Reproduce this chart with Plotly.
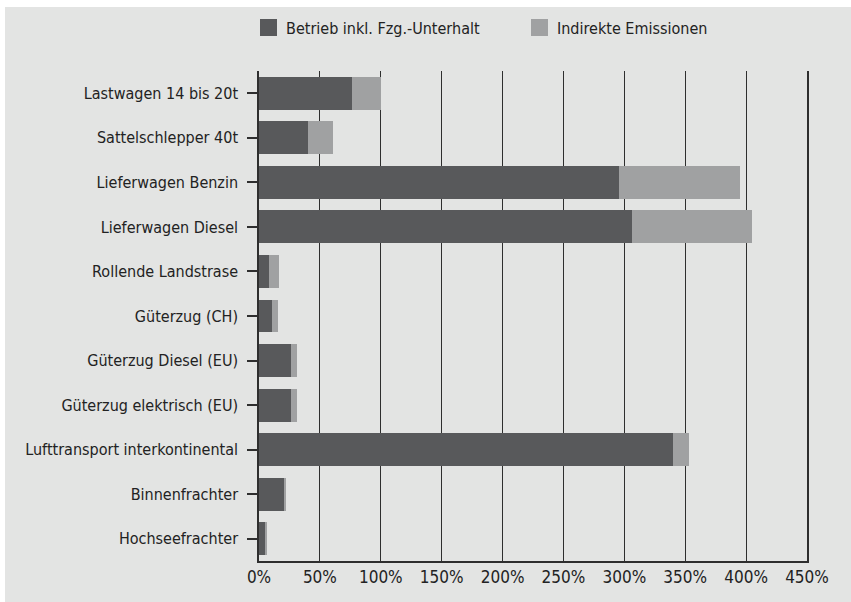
import plotly.graph_objects as go

categories = [
    "Lastwagen 14 bis 20t",
    "Sattelschlepper 40t",
    "Lieferwagen Benzin",
    "Lieferwagen Diesel",
    "Rollende Landstrase",
    "Güterzug (CH)",
    "Güterzug Diesel (EU)",
    "Güterzug elektrisch (EU)",
    "Lufttransport interkontinental",
    "Binnenfrachter",
    "Hochseefrachter",
]
betrieb = [76, 40, 296, 306, 8.5, 11, 26, 26, 340, 21, 5.2]
indirekt = [24, 21, 99, 99, 8, 5, 5, 5, 13, 1.5, 1.3]
series_names = ["Betrieb inkl. Fzg.-Unterhalt", "Indirekte Emissionen"]
tick_vals = [0, 50, 100, 150, 200, 250, 300, 350, 400, 450]
tick_text = [f"{v}%" for v in tick_vals]

DARK = "#58595b"
LIGHT = "#a0a1a2"
BG = "#e3e4e3"
LINE = "#2e2e2e"
FONT = "DejaVu Sans Condensed, Liberation Sans Narrow, sans-serif"
FS = 16
W, H = 851, 602
ML, MR, MT, MB = 259, 44, 71, 41

fig = go.Figure()
fig.add_trace(go.Bar(y=categories, x=betrieb, orientation="h", name=series_names[0],
                     marker=dict(color=DARK, line=dict(width=0)), showlegend=False))
fig.add_trace(go.Bar(y=categories, x=indirekt, orientation="h", name=series_names[1],
                     marker=dict(color=LIGHT, line=dict(width=0)), showlegend=False))

pw = W - ML - MR
ph = H - MT - MB
def px_x(p):
    return (p - ML) / pw
def px_y(p):
    return (H - MB - p) / ph

shapes = []
# white outer margins (top and left strips)
shapes.append(dict(type="rect", xref="paper", yref="paper", x0=px_x(-5), x1=px_x(W + 5),
                   y0=px_y(7), y1=px_y(-5), fillcolor="white", line=dict(width=0), layer="below"))
shapes.append(dict(type="rect", xref="paper", yref="paper", x0=px_x(-5), x1=px_x(5),
                   y0=px_y(H + 5), y1=px_y(-5), fillcolor="white", line=dict(width=0), layer="below"))
# legend squares
shapes.append(dict(type="rect", xref="paper", yref="paper", x0=px_x(260), x1=px_x(277),
                   y0=px_y(36), y1=px_y(19), fillcolor=DARK, line=dict(width=0)))
shapes.append(dict(type="rect", xref="paper", yref="paper", x0=px_x(531), x1=px_x(548),
                   y0=px_y(36), y1=px_y(19), fillcolor=LIGHT, line=dict(width=0)))

annotations = [
    dict(xref="paper", yref="paper", x=px_x(284), y=px_y(28), text=series_names[0],
         showarrow=False, xanchor="left", yanchor="middle", font=dict(size=FS, color="#222")),
    dict(xref="paper", yref="paper", x=px_x(555), y=px_y(28), text=series_names[1],
         showarrow=False, xanchor="left", yanchor="middle", font=dict(size=FS, color="#222")),
]

fig.update_layout(
    width=W, height=H,
    margin=dict(l=ML, r=MR, t=MT, b=MB, pad=0),
    barmode="stack",
    bargap=0.26,
    paper_bgcolor=BG,
    plot_bgcolor=BG,
    font=dict(family=FONT, size=FS, color="#222"),
    shapes=shapes,
    annotations=annotations,
    xaxis=dict(range=[0, 450], tickvals=tick_vals, ticktext=tick_text,
               showgrid=True, gridcolor=LINE, gridwidth=1,
               showline=True, linecolor=LINE, linewidth=1.5,
               ticks="", zeroline=False, fixedrange=True, automargin=False,
               tickfont=dict(size=FS + 1)),
    yaxis=dict(categoryorder="array", categoryarray=categories, autorange="reversed",
               showline=True, mirror=True, linecolor=LINE, linewidth=1.5,
               ticks="outside", ticklen=10, tickcolor=LINE, tickwidth=1.5,
               ticklabelstandoff=6,
               showgrid=False, zeroline=False, fixedrange=True, automargin=False),
)

fig.write_html("out.html")
